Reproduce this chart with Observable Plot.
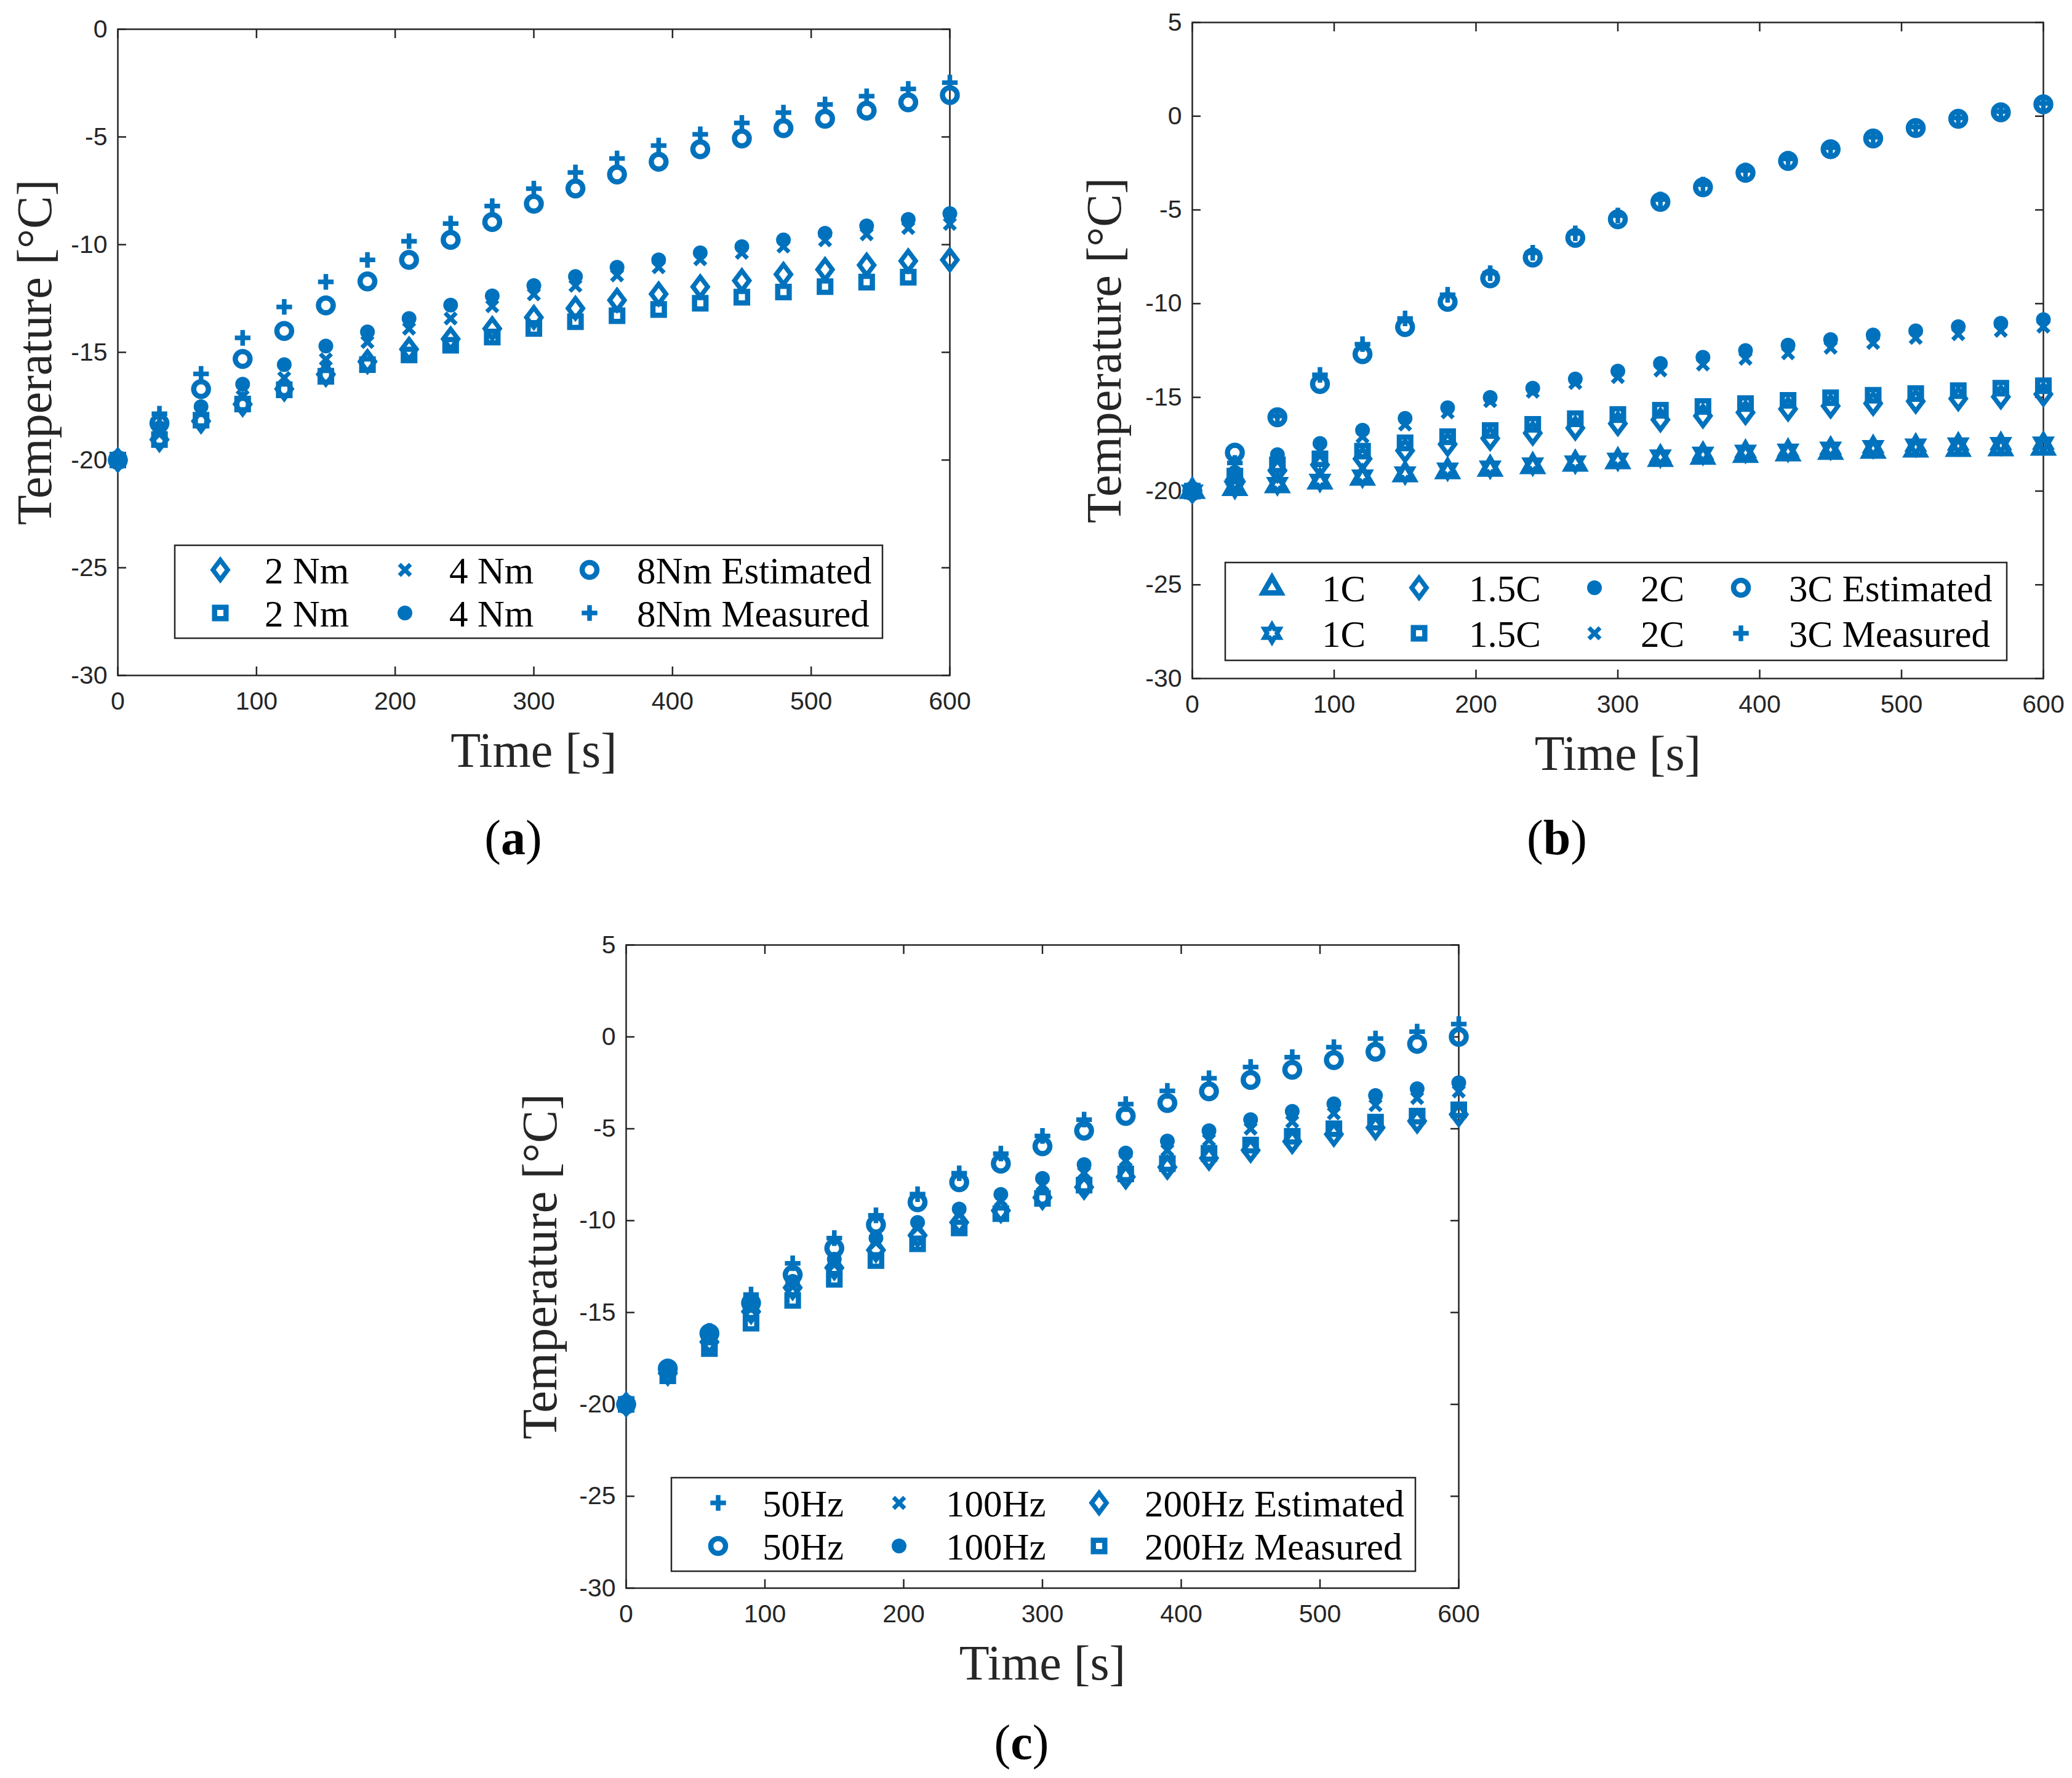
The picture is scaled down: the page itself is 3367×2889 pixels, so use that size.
<!DOCTYPE html>
<html>
<head>
<meta charset="utf-8">
<script src="https://cdn.jsdelivr.net/npm/d3@7"></script>
<script src="https://cdn.jsdelivr.net/npm/@observablehq/plot@0.6"></script>
<style>
html, body { margin: 0; padding: 0; background: #ffffff; }
#page { position: relative; width: 3367px; height: 2889px; background: #ffffff; overflow: hidden; }
.panel { position: absolute; }
#overlay { position: absolute; left: 0; top: 0; }
</style>
</head>
<body>
<div id="page"></div>
<script>
// ---------------- DATA ----------------
const time = [0, 30, 60, 90, 120, 150, 180, 210, 240, 270, 300, 330, 360, 390, 420, 450, 480, 510, 540, 570, 600];

const xTicks = [0, 100, 200, 300, 400, 500, 600];
const yTicksA = [-30, -25, -20, -15, -10, -5, 0];
const yTicksBC = [-30, -25, -20, -15, -10, -5, 0, 5];

// (a) torque
const a2NmEstimated = [-20, -19.05, -18.19, -17.41, -16.7, -16.02, -15.43, -14.86, -14.38, -13.9, -13.38, -12.96, -12.58, -12.29, -11.96, -11.67, -11.38, -11.16, -10.95, -10.76, -10.71];
const a2NmMeasured  = [-20, -19.05, -18.15, -17.4, -16.74, -16.11, -15.57, -15.12, -14.67, -14.29, -13.89, -13.58, -13.3, -13.01, -12.72, -12.44, -12.2, -11.95, -11.74, -11.51, null];
const a4NmEstimated = [-20, -18.8, -17.8, -17.05, -16.19, -15.33, -14.52, -13.9, -13.43, -12.86, -12.31, -11.91, -11.43, -11.05, -10.68, -10.38, -10.09, -9.8, -9.52, -9.23, -9.04];
const a4NmMeasured  = [-20, -18.5, -17.52, -16.48, -15.57, -14.71, -14.05, -13.43, -12.81, -12.38, -11.9, -11.48, -11.05, -10.71, -10.38, -10.09, -9.78, -9.47, -9.13, -8.83, -8.56];
const a8NmEstimated = [-20, -18.29, -16.71, -15.31, -14.01, -12.82, -11.71, -10.71, -9.78, -8.95, -8.1, -7.39, -6.74, -6.15, -5.57, -5.07, -4.59, -4.16, -3.78, -3.39, -3.06];
const a8NmMeasured  = [-20, -17.85, -16.0, -14.33, -12.89, -11.73, -10.71, -9.84, -9.02, -8.21, -7.4, -6.65, -6.0, -5.4, -4.88, -4.35, -3.87, -3.49, -3.11, -2.77, -2.48];

// (b) C-rate
const b1CEstimated   = [-20, -19.85, -19.7, -19.5, -19.3, -19.12, -18.95, -18.82, -18.68, -18.55, -18.42, -18.3, -18.18, -18.08, -18.0, -17.92, -17.86, -17.8, -17.76, -17.73, -17.7];
const b1CMeasured    = [-20, -19.8, -19.6, -19.43, -19.2, -19.03, -18.83, -18.72, -18.56, -18.45, -18.3, -18.13, -17.98, -17.88, -17.82, -17.71, -17.63, -17.55, -17.49, -17.47, -17.44];
const b15CEstimated  = [-20, -19.4, -18.9, -18.6, -18.28, -17.84, -17.5, -17.19, -16.91, -16.64, -16.4, -16.19, -15.99, -15.81, -15.62, -15.46, -15.32, -15.21, -15.07, -14.97, -14.83];
const b15CMeasured   = [-20, -19.2, -18.6, -18.28, -17.87, -17.43, -17.1, -16.77, -16.44, -16.14, -15.92, -15.69, -15.49, -15.33, -15.16, -15.02, -14.89, -14.8, -14.64, -14.51, -14.38];
const b2CEstimated   = [-20, -19.0, -18.06, -17.46, -16.75, -16.12, -15.55, -15.0, -14.51, -14.02, -13.6, -13.19, -12.86, -12.5, -12.21, -11.92, -11.67, -11.45, -11.23, -11.05, -10.85];
const b2CMeasured    = [-20, -19.2, -18.4, -17.8, -17.1, -16.45, -15.8, -15.2, -14.7, -14.23, -13.92, -13.57, -13.25, -12.94, -12.65, -12.35, -12.1, -11.83, -11.63, -11.45, -11.23];
const b3CEstimated   = [-20, -17.95, -16.06, -14.29, -12.7, -11.25, -9.91, -8.65, -7.54, -6.49, -5.5, -4.57, -3.79, -3.02, -2.39, -1.76, -1.19, -0.63, -0.14, 0.21, 0.63];
const b3CMeasured    = [-20, -18.5, -16.0, -13.8, -12.16, -10.79, -9.53, -8.38, -7.29, -6.25, -5.3, -4.45, -3.65, -2.9, -2.28, -1.68, -1.12, -0.58, -0.1, 0.25, 0.68];

// (c) frequency
const c50HzEstimated  = [-20, -18.0, -16.0, -14.02, -12.32, -10.95, -9.71, -8.56, -7.42, -6.35, -5.39, -4.5, -3.66, -2.94, -2.25, -1.64, -1.1, -0.56, -0.09, 0.29, 0.7];
const c50HzMeasured   = [-20, -18.05, -16.13, -14.48, -12.94, -11.5, -10.22, -9.0, -7.91, -6.9, -5.95, -5.11, -4.3, -3.6, -2.96, -2.34, -1.79, -1.26, -0.81, -0.38, 0.0];
const c100HzEstimated = [-20, -18.2, -16.4, -14.8, -13.6, -12.4, -11.2, -10.4, -9.7, -8.9, -8.07, -7.4, -6.73, -6.17, -5.61, -5.0, -4.61, -4.16, -3.72, -3.33, -2.97];
const c100HzMeasured  = [-20, -18.1, -16.2, -14.6, -13.3, -12.1, -10.95, -10.1, -9.37, -8.57, -7.7, -6.95, -6.32, -5.67, -5.11, -4.5, -4.05, -3.64, -3.19, -2.82, -2.49];
const c200HzEstimated = [-20, -18.3, -16.6, -14.95, -13.65, -12.57, -11.6, -10.8, -10.1, -9.45, -8.74, -8.18, -7.62, -7.09, -6.6, -6.17, -5.69, -5.3, -4.94, -4.58, -4.22];
const c200HzMeasured  = [-20, -18.44, -16.96, -15.58, -14.34, -13.19, -12.17, -11.26, -10.4, -9.62, -8.79, -8.07, -7.46, -6.9, -6.34, -5.89, -5.41, -5.0, -4.64, -4.31, -3.97];

// legend labels (row 1 = estimated, row 2 = measured)
const legendLabelsA = [["2 Nm", "4 Nm", "8Nm Estimated"], ["2 Nm", "4 Nm", "8Nm Measured"]];
const legendLabelsB = [["1C", "1.5C", "2C", "3C Estimated"], ["1C", "1.5C", "2C", "3C Measured"]];
const legendLabelsC = [["50Hz", "100Hz", "200Hz Estimated"], ["50Hz", "100Hz", "200Hz Measured"]];

const xLabel = "Time [s]";
const yLabel = "Temperature [°C]";

// ---------------- STYLE ----------------
const BLUE = "#0072BD";
const INK = "#262626";
const SERIF = "'Liberation Serif', 'Times New Roman', serif";
const SANS = "'Liberation Sans', Arial, sans-serif";

function sym(fn) {
  return { draw(ctx, size) { const r = Math.sqrt(size / Math.PI); fn(ctx, r); } };
}
const SYM = {
  circle: sym((c, r) => { c.moveTo(r, 0); c.arc(0, 0, r, 0, 2 * Math.PI); c.closePath(); }),
  plus: sym((c, r) => { c.moveTo(-r, 0); c.lineTo(r, 0); c.moveTo(0, -r); c.lineTo(0, r); }),
  times: sym((c, r) => { c.moveTo(-r, -r); c.lineTo(r, r); c.moveTo(-r, r); c.lineTo(r, -r); }),
  square: sym((c, r) => { c.moveTo(-r, -r); c.lineTo(r, -r); c.lineTo(r, r); c.lineTo(-r, r); c.closePath(); }),
  diamond: sym((c, r) => { const w = r * 0.75; c.moveTo(0, -r); c.lineTo(w, 0); c.lineTo(0, r); c.lineTo(-w, 0); c.closePath(); }),
  triangle: sym((c, r) => { const h = r * Math.sqrt(3) / 2; c.moveTo(0, -r); c.lineTo(h, r / 2); c.lineTo(-h, r / 2); c.closePath(); }),
  hexagram: sym((c, r) => {
    const ri = r / Math.sqrt(3);
    for (let k = 0; k < 12; k++) {
      const a = -Math.PI / 2 + k * Math.PI / 6, rr = k % 2 ? ri : r;
      const x = rr * Math.cos(a), y = rr * Math.sin(a);
      if (k) c.lineTo(x, y); else c.moveTo(x, y);
    }
    c.closePath();
  })
};
const MARK = {
  circle:   { symbol: SYM.circle,   r: 12,   fill: "none", strokeWidth: 8.5 },
  dot:      { symbol: SYM.circle,   r: 10.5, fill: BLUE,   strokeWidth: 3 },
  plus:     { symbol: SYM.plus,     r: 12.7, fill: "none", strokeWidth: 7.5 },
  times:    { symbol: SYM.times,    r: 9,    fill: "none", strokeWidth: 7 },
  square:   { symbol: SYM.square,   r: 9.3,  fill: "none", strokeWidth: 8.5 },
  diamond:  { symbol: SYM.diamond,  r: 16,   fill: "none", strokeWidth: 7.5 },
  triangle: { symbol: SYM.triangle, r: 16.8, fill: "none", strokeWidth: 8.6 },
  hexagram: { symbol: SYM.hexagram, r: 14,   fill: "none", strokeWidth: 7.5 }
};

// ---------------- PANELS ----------------
const panels = [
  {
    id: "a", left: 0, top: 0, width: 1603, height: 1420,
    margin: { left: 191, right: 60, top: 47, bottom: 323 },
    yDomain: [-30, 0], yTicks: yTicksA, yLabelDx: -109,
    series: [
      { v: a2NmEstimated, shape: "diamond", row: 0, col: 0 },
      { v: a2NmMeasured,  shape: "square",  row: 1, col: 0 },
      { v: a4NmEstimated, shape: "times",   row: 0, col: 1 },
      { v: a4NmMeasured,  shape: "dot",     row: 1, col: 1 },
      { v: a8NmEstimated, shape: "circle",  row: 0, col: 2 },
      { v: a8NmMeasured,  shape: "plus",    row: 1, col: 2 }
    ],
    legend: { labels: legendLabelsA, box: [284, 886, 1434, 1037], rows: [926, 996], symX: [358, 658, 958], textX: [430, 730, 1035] },
    tag: { x: 834, y: 1388 }
  },
  {
    id: "b", left: 1700, top: 0, width: 1660, height: 1425,
    margin: { left: 237, right: 40, top: 36, bottom: 323 },
    yDomain: [-30, 5], yTicks: yTicksBC, yLabelDx: -117,
    series: [
      { v: b1CEstimated,  shape: "triangle", row: 0, col: 0 },
      { v: b1CMeasured,   shape: "hexagram", row: 1, col: 0 },
      { v: b15CEstimated, shape: "diamond",  row: 0, col: 1 },
      { v: b15CMeasured,  shape: "square",   row: 1, col: 1 },
      { v: b2CEstimated,  shape: "dot",      row: 0, col: 2 },
      { v: b2CMeasured,   shape: "times",    row: 1, col: 2 },
      { v: b3CEstimated,  shape: "circle",   row: 0, col: 3 },
      { v: b3CMeasured,   shape: "plus",     row: 1, col: 3 }
    ],
    legend: { labels: legendLabelsB, box: [1991, 914, 3261, 1073], rows: [955, 1029], symX: [2067, 2306, 2591, 2829], textX: [2148, 2387, 2666, 2907] },
    tag: { x: 2530, y: 1388 }
  },
  {
    id: "c", left: 800, top: 1450, width: 1630, height: 1439,
    margin: { left: 217, right: 60, top: 85, bottom: 309 },
    yDomain: [-30, 5], yTicks: yTicksBC, yLabelDx: -114,
    series: [
      { v: c50HzEstimated,  shape: "plus",    row: 0, col: 0 },
      { v: c50HzMeasured,   shape: "circle",  row: 1, col: 0 },
      { v: c100HzEstimated, shape: "times",   row: 0, col: 1 },
      { v: c100HzMeasured,  shape: "dot",     row: 1, col: 1 },
      { v: c200HzEstimated, shape: "diamond", row: 0, col: 2 },
      { v: c200HzMeasured,  shape: "square",  row: 1, col: 2 }
    ],
    legend: { labels: legendLabelsC, box: [1091, 2401, 2300, 2553], rows: [2442, 2512], symX: [1167, 1461, 1786], textX: [1239, 1537, 1860] },
    tag: { x: 1660, y: 2858 }
  }
];

const page = document.getElementById("page");
const fmt = d => String(d);

for (const p of panels) {
  const marks = [
    Plot.frame({ stroke: INK, strokeWidth: 2.5 }),
    Plot.axisX({ ticks: xTicks, tickSize: 0, tickPadding: 26, tickFormat: fmt, label: null, fill: INK, fontSize: 41 }),
    Plot.axisX({ ticks: xTicks, tickSize: -14, stroke: INK, strokeWidth: 2.5, fill: "none", label: null }),
    Plot.axisX({ anchor: "top", ticks: xTicks, tickSize: -14, stroke: INK, strokeWidth: 2.5, fill: "none", label: null }),
    Plot.axisY({ ticks: p.yTicks, tickSize: 0, tickPadding: 17, tickFormat: fmt, label: null, fill: INK, fontSize: 41 }),
    Plot.axisY({ ticks: p.yTicks, tickSize: -14, stroke: INK, strokeWidth: 2.5, fill: "none", label: null }),
    Plot.axisY({ anchor: "right", ticks: p.yTicks, tickSize: -14, stroke: INK, strokeWidth: 2.5, fill: "none", label: null }),
    Plot.text([xLabel], { frameAnchor: "bottom", dy: 148, lineAnchor: "bottom", textAnchor: "middle", text: d => d, fontFamily: SERIF, fontSize: 80, fill: INK }),
    Plot.text([yLabel], { frameAnchor: "left", dx: p.yLabelDx, rotate: -90, lineAnchor: "bottom", textAnchor: "middle", text: d => d, fontFamily: SERIF, fontSize: 80, fill: INK })
  ];
  for (const s of p.series) {
    const rows = time.map((t, i) => ({ t, v: s.v[i] })).filter(d => d.v != null);
    marks.push(Plot.dot(rows, { x: "t", y: "v", stroke: BLUE, ...MARK[s.shape] }));
  }
  const chart = Plot.plot({
    width: p.width, height: p.height,
    marginLeft: p.margin.left, marginRight: p.margin.right,
    marginTop: p.margin.top, marginBottom: p.margin.bottom,
    x: { domain: [0, 600] },
    y: { domain: p.yDomain },
    style: { fontFamily: SANS, fontSize: "41px", color: INK, background: "transparent", overflow: "visible" },
    marks
  });
  const wrap = document.createElement("div");
  wrap.className = "panel";
  wrap.style.left = p.left + "px";
  wrap.style.top = p.top + "px";
  wrap.appendChild(chart);
  page.appendChild(wrap);
}

// ---------------- LEGENDS & PANEL TAGS ----------------
const overlay = d3.select(page).append("svg")
  .attr("id", "overlay")
  .attr("width", 3367).attr("height", 2889)
  .attr("viewBox", "0 0 3367 2889");

for (const p of panels) {
  const L = p.legend;
  const g = overlay.append("g").attr("class", "legend");
  g.append("rect")
    .attr("x", L.box[0]).attr("y", L.box[1])
    .attr("width", L.box[2] - L.box[0]).attr("height", L.box[3] - L.box[1])
    .attr("fill", "#ffffff").attr("stroke", INK).attr("stroke-width", 2.5);
  for (const s of p.series) {
    const m = MARK[s.shape];
    const path = d3.path();
    m.symbol.draw(path, m.r * m.r * Math.PI);
    g.append("path")
      .attr("d", path.toString())
      .attr("transform", `translate(${L.symX[s.col]},${L.rows[s.row]})`)
      .attr("fill", m.fill).attr("stroke", BLUE).attr("stroke-width", m.strokeWidth);
    g.append("text")
      .attr("x", L.textX[s.col]).attr("y", L.rows[s.row] + 22)
      .attr("font-family", SERIF).attr("font-size", 61).attr("fill", "#000000")
      .text(L.labels[s.row][s.col]);
  }
  const t = overlay.append("text")
    .attr("x", p.tag.x).attr("y", p.tag.y)
    .attr("text-anchor", "middle")
    .attr("font-family", SERIF).attr("font-size", 80).attr("fill", "#000000");
  t.append("tspan").text("(");
  t.append("tspan").attr("font-weight", "bold").text(p.id);
  t.append("tspan").text(")");
}
</script>
</body>
</html>
